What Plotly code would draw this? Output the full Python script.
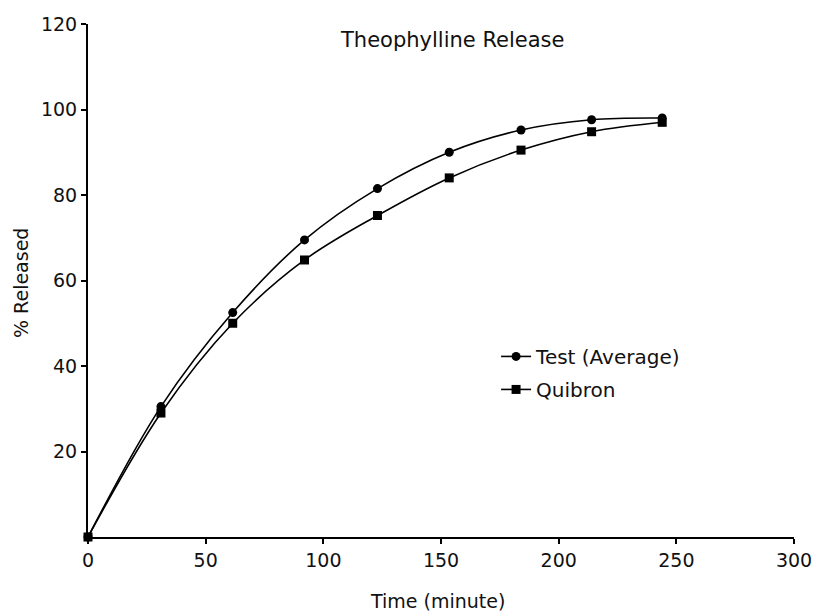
import plotly.graph_objects as go

time_min = [0, 31, 61.5, 92, 123, 153.5, 184, 214, 244]
test_avg = [0, 30.5, 52.5, 69.5, 81.5, 90, 95.2, 97.6, 98]
quibron = [0, 29, 50, 64.8, 75.2, 84, 90.5, 94.8, 97]

x_ticks = [0, 50, 100, 150, 200, 250, 300]
y_ticks = [20, 40, 60, 80, 100, 120]

FONT = "DejaVu Sans"

fig = go.Figure()
fig.add_trace(go.Scatter(
    x=time_min, y=test_avg, name="Test (Average)", mode="lines+markers",
    line=dict(color="black", width=1.6, shape="spline", smoothing=1),
    marker=dict(symbol="circle", size=9, color="black"),
    cliponaxis=False, legendgroup="a"))
fig.add_trace(go.Scatter(
    x=time_min, y=quibron, name="Quibron", mode="lines+markers",
    line=dict(color="black", width=1.6, shape="spline", smoothing=1),
    marker=dict(symbol="square", size=9, color="black"),
    cliponaxis=False, legendgroup="b"))

fig.update_layout(
    width=814, height=612,
    margin=dict(l=88, r=20, t=24, b=75, autoexpand=False),
    paper_bgcolor="white", plot_bgcolor="white",
    font=dict(family=FONT, size=19, color="#111"),
    showlegend=True,
    legend=dict(x=0.578, y=0.39, xanchor="left", yanchor="top",
                bgcolor="rgba(0,0,0,0)", font=dict(size=20, family=FONT),
                tracegroupgap=4, traceorder="grouped"),
    xaxis=dict(range=[0, 300], tickvals=x_ticks, ticks="outside", ticklen=5,
               tickwidth=1.5, tickcolor="black", showline=True, linecolor="black",
               linewidth=2, showgrid=False, zeroline=False, automargin=False,
               tickfont=dict(size=19, family=FONT)),
    yaxis=dict(range=[0, 120], tickvals=y_ticks, ticks="outside", ticklen=5,
               tickwidth=1.5, tickcolor="black", showline=True, linecolor="black",
               linewidth=2, showgrid=False, zeroline=False, automargin=False,
               tickfont=dict(size=19, family=FONT)),
    annotations=[
        dict(text="Theophylline Release", xref="paper", yref="paper",
             x=(452 - 88) / 706, y=(537 - 40) / 513, xanchor="center", yanchor="middle",
             showarrow=False, font=dict(size=21, family=FONT)),
        dict(text="Time (minute)", xref="paper", yref="paper",
             x=(437 - 88) / 706, y=(537 - 601) / 513, xanchor="center", yanchor="middle",
             showarrow=False, font=dict(size=19, family=FONT)),
        dict(text="% Released", xref="paper", yref="paper", textangle=-90,
             x=(21 - 88) / 706, y=(537 - 283) / 513, xanchor="center", yanchor="middle",
             showarrow=False, font=dict(size=19, family=FONT)),
    ],
)

fig.write_html("out.html")
